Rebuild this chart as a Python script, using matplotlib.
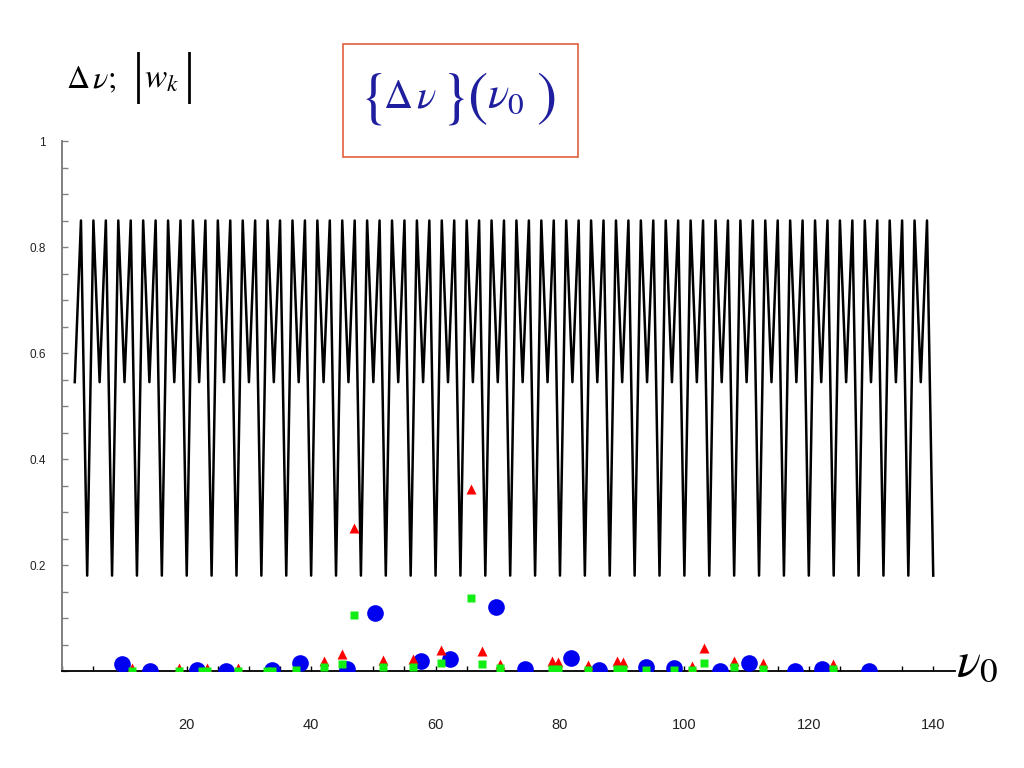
import matplotlib
matplotlib.use('Agg')
import matplotlib.pyplot as plt
from matplotlib.ticker import FixedLocator, MultipleLocator, FuncFormatter
from matplotlib.patches import Rectangle

# ---- data ----
nu0_curve = list(range(2, 141))
dnu_curve = [
    0.545, 0.85, 0.18, 0.85, 0.545, 0.85, 0.18, 0.85,
    0.545, 0.85, 0.18, 0.85, 0.545, 0.85, 0.18, 0.85,
    0.545, 0.85, 0.18, 0.85, 0.545, 0.85, 0.18, 0.85,
    0.545, 0.85, 0.18, 0.85, 0.545, 0.85, 0.18, 0.85,
    0.545, 0.85, 0.18, 0.85, 0.545, 0.85, 0.18, 0.85,
    0.545, 0.85, 0.18, 0.85, 0.545, 0.85, 0.18, 0.85,
    0.545, 0.85, 0.18, 0.85, 0.545, 0.85, 0.18, 0.85,
    0.545, 0.85, 0.18, 0.85, 0.545, 0.85, 0.18, 0.85,
    0.545, 0.85, 0.18, 0.85, 0.545, 0.85, 0.18, 0.85,
    0.545, 0.85, 0.18, 0.85, 0.545, 0.85, 0.18, 0.85,
    0.545, 0.85, 0.18, 0.85, 0.545, 0.85, 0.18, 0.85,
    0.545, 0.85, 0.18, 0.85, 0.545, 0.85, 0.18, 0.85,
    0.545, 0.85, 0.18, 0.85, 0.545, 0.85, 0.18, 0.85,
    0.545, 0.85, 0.18, 0.85, 0.545, 0.85, 0.18, 0.85,
    0.545, 0.85, 0.18, 0.85, 0.545, 0.85, 0.18, 0.85,
    0.545, 0.85, 0.18, 0.85, 0.545, 0.85, 0.18, 0.85,
    0.545, 0.85, 0.18, 0.85, 0.545, 0.85, 0.18, 0.85,
    0.545, 0.85, 0.18,
]

blue_x = [9.65, 14.1, 21.6, 26.3, 33.7, 38.2, 45.7, 50.3, 57.7, 62.3, 69.7,
          74.3, 81.7, 86.3, 93.8, 98.3, 105.7, 110.4, 117.8, 122.2, 129.7]
blue_y = [0.013, 0.0, 0.002, 0.0, 0.002, 0.015, 0.004, 0.110, 0.018, 0.023, 0.121,
          0.003, 0.024, 0.001, 0.008, 0.005, 0.0, 0.015, 0.0, 0.003, 0.0]

red_x = [11.2, 18.8, 23.3, 28.2, 42.1, 45.0, 46.9, 51.5, 56.3, 60.9, 65.7, 67.5,
         70.4, 78.7, 79.7, 84.5, 89.1, 90.2, 101.3, 103.2, 107.9, 112.7, 123.9]
red_y = [0.005, 0.005, 0.005, 0.005, 0.019, 0.032, 0.270, 0.021, 0.022, 0.040, 0.343, 0.038,
         0.013, 0.019, 0.017, 0.011, 0.019, 0.017, 0.010, 0.044, 0.019, 0.016, 0.014]

green_x = [11.2, 18.8, 22.4, 23.2, 28.2, 32.9, 33.7, 37.6, 42.1, 45.0, 46.9, 51.5,
           56.3, 60.9, 65.7, 67.5, 70.4, 78.7, 79.7, 84.5, 89.1, 90.2, 93.8, 98.3,
           101.3, 103.2, 107.9, 112.7, 123.9]
green_y = [0.0, 0.0, 0.0, 0.0, 0.0, 0.0, 0.0, 0.002, 0.008, 0.013, 0.106, 0.008,
           0.008, 0.016, 0.137, 0.013, 0.005, 0.004, 0.003, 0.002, 0.004, 0.003, 0.002, 0.002,
           0.002, 0.016, 0.008, 0.004, 0.004]

x_tick_labels = [20, 40, 60, 80, 100, 120, 140]
y_tick_labels = [0.2, 0.4, 0.6, 0.8, 1.0]

# ---- drawing ----
plt.rcParams['font.family'] = ['Liberation Sans', 'DejaVu Sans']
plt.rcParams['mathtext.fontset'] = 'stix'

W, H = 1024.0, 768.0
fig = plt.figure(figsize=(10.24, 7.68), dpi=100)
ax = fig.add_axes([62.3 / W, 97 / H, (955 - 62.3) / W, 530 / H])

ax.plot(nu0_curve, dnu_curve, color='black', lw=1.8, zorder=2)
ax.plot(blue_x, blue_y, 'o', color='#0000f0', ms=12, mec='none', zorder=3)
ax.plot(red_x, red_y, '^', color='#ff0000', ms=7.5, mec='none', zorder=4)
ax.plot(green_x, green_y, 's', color='#11ee11', ms=5.5, mec='none', zorder=5)

ax.set_xlim(0, 143.5)
ax.set_ylim(0, 1)

ax.xaxis.set_major_locator(FixedLocator(x_tick_labels))
ax.xaxis.set_minor_locator(MultipleLocator(5))
ax.xaxis.set_major_formatter(FuncFormatter(lambda v, p: f'{v:g}'))
ax.yaxis.set_major_locator(FixedLocator(y_tick_labels))
ax.yaxis.set_minor_locator(MultipleLocator(0.05))
ax.yaxis.set_major_formatter(FuncFormatter(lambda v, p: f'{v:g}'))

ax.tick_params(axis='x', which='both', direction='in', length=3.5, width=1,
               color='black', pad=34, labelsize=10.5, labelcolor='#222222')
ax.tick_params(axis='y', which='both', direction='in', length=4, width=1,
               color='#808080', pad=12, labelsize=8.5, labelcolor='#222222')

for s in ('top', 'right'):
    ax.spines[s].set_visible(False)
ax.spines['left'].set_color('#808080')
ax.spines['left'].set_linewidth(1.4)
ax.spines['bottom'].set_color('black')
ax.spines['bottom'].set_linewidth(1.3)

# title box {Δν}(ν0)
fig.add_artist(Rectangle((343 / W, 1 - 157 / H), 235 / W, 113 / H,
                         transform=fig.transFigure, fill=False,
                         edgecolor='#e0603c', lw=1.2))
tc = '#1e1e9e'
for ch, xc in [(r'$\{$', 371), (r'$\}$', 453), (r'$($', 477), (r'$)$', 546)]:
    fig.text(xc / W, 1 - 99 / H, ch, color=tc, fontsize=44,
             ha='center', va='center')
fig.text(383 / W, 1 - 108 / H, r'$\Delta\,\nu$', color=tc, fontsize=29,
         ha='left', va='baseline')
fig.text(487 / W, 1 - 108 / H, r'$\nu_0$', color=tc, fontsize=32,
         ha='left', va='baseline')

# y-axis label: Δν; |w_k|
fig.text(66 / W, 1 - 88 / H, r'$\Delta\,\nu;$',
         fontsize=23, ha='left', va='baseline', color='black')
for xc in (138, 189):
    fig.text(xc / W, 1 - 78 / H, '|', family='Liberation Serif',
             fontsize=40, ha='center', va='center', color='black')
fig.text(144 / W, 1 - 88 / H, r'$w_k$',
         fontsize=24, ha='left', va='baseline', color='black')

# x-axis label
fig.text(956 / W, 1 - 675 / H, r'$\nu_0$',
         fontsize=36, ha='left', va='baseline', color='black')

fig.savefig('out.png', dpi=100)
